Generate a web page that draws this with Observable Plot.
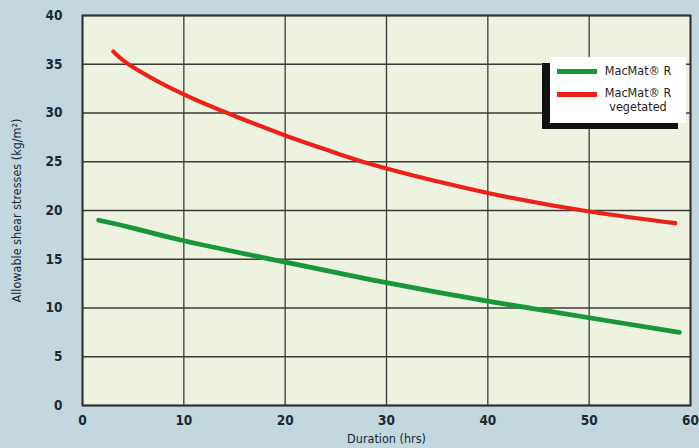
<!DOCTYPE html>
<html><head><meta charset="utf-8">
<script src="https://cdn.jsdelivr.net/npm/d3@7"></script>
<script src="https://cdn.jsdelivr.net/npm/@observablehq/plot@0.6"></script>
<style>
html,body{margin:0;padding:0;background:#c4d7df;}
#wrap{position:relative;width:699px;height:448px;overflow:hidden;}
#legend{position:absolute;left:550px;top:57px;width:136px;height:66px;background:#fff;box-shadow:-8px 6px 0 #111;font-family:"DejaVu Sans Condensed",sans-serif;font-size:12.5px;color:#222;}
.li{position:absolute;left:7px;width:40px;height:4.5px;}
.lt{position:absolute;text-align:center;line-height:14px;}
</style></head>
<body><div id="wrap"><div id="legend"></div></div>
<script>
const greenName = "MacMat® R";
const redName = "MacMat® R vegetated";
const greenHours = [1.6, 5, 10, 20, 30, 40, 50, 58.9];
const greenStress = [19.0, 18.2, 16.9, 14.7, 12.6, 10.7, 9.0, 7.5];
const redHours = [3.05, 5, 10, 15, 20, 25, 30, 40, 50, 58.5];
const redStress = [36.3, 34.7, 31.9, 29.7, 27.7, 25.9, 24.3, 21.8, 19.9, 18.7];
const xTicks = [0, 10, 20, 30, 40, 50, 60];
const yTicks = [0, 5, 10, 15, 20, 25, 30, 35, 40];

const green = greenHours.map((h, i) => ({h, s: greenStress[i]}));
const red = redHours.map((h, i) => ({h, s: redStress[i]}));
const font = '"DejaVu Sans Condensed",sans-serif';

const chart = Plot.plot({
  width: 699, height: 448,
  marginLeft: 82, marginRight: 9, marginTop: 15, marginBottom: 43,
  style: {background: "transparent", fontFamily: font, color: "#1b2a33"},
  x: {domain: [0, 60]},
  y: {domain: [0, 40]},
  marks: [
    Plot.frame({fill: "#eef3e1", stroke: null}),
    Plot.gridX(xTicks, {stroke: "#3a3a3a", strokeOpacity: 1, strokeWidth: 1.3}),
    Plot.gridY(yTicks, {stroke: "#3a3a3a", strokeOpacity: 1, strokeWidth: 1.3}),
    Plot.frame({stroke: "#333", strokeWidth: 2}),
    Plot.axisX(xTicks, {tickSize: 0, tickPadding: 10, fontSize: 13.5, fontWeight: "bold",
      label: "Duration (hrs)", labelAnchor: "center", labelArrow: "none", labelOffset: 37}),
    Plot.axisY(yTicks, {tickSize: 0, tickPadding: 20, fontSize: 13.5, fontWeight: "bold",
      label: "Allowable shear stresses (kg/m²)", labelAnchor: "center", labelArrow: "none", labelOffset: 70}),
    Plot.line(green, {x: "h", y: "s", stroke: "#17963a", strokeWidth: 4.8, curve: "natural"}),
    Plot.line(red, {x: "h", y: "s", stroke: "#ec2118", strokeWidth: 4.2, curve: "natural"})
  ]
});
chart.querySelectorAll('[aria-label="x-axis label"] text, [aria-label="y-axis label"] text').forEach(t => {
  t.setAttribute("font-size", "12.5"); t.setAttribute("font-weight", "normal");
});
const wrap = document.getElementById("wrap");
wrap.insertBefore(chart, wrap.firstChild);

const legend = document.getElementById("legend");
legend.innerHTML =
  `<div class="li" style="top:12px;background:#17963a"></div>
   <div class="lt" style="left:48px;top:7px;width:80px">${greenName}</div>
   <div class="li" style="top:35px;background:#ec2118"></div>
   <div class="lt" style="left:48px;top:29px;width:80px">${redName.replace(" vegetated", "<br>vegetated")}</div>`;
</script>
</body></html>
